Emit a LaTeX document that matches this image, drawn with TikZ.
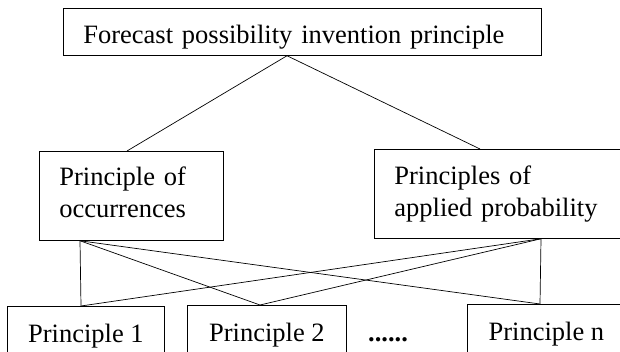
\documentclass[tikz,border=0pt]{standalone}
\usepackage{fontspec}
\setmainfont{Liberation Serif}
\usetikzlibrary{positioning}

\begin{document}
\begin{tikzpicture}[x=1pt,y=-1pt,
  box/.style={draw, rectangle, anchor=north west, inner xsep=20pt, inner ysep=0pt, align=left, line width=0.75pt, font=\fontsize{26.5}{32}\selectfont},
  leaf/.style={draw, rectangle, anchor=north west, inner sep=0pt, minimum height=60pt, line width=0.75pt, font=\fontsize{26.5}{32}\selectfont},
  edge/.style={line width=0.7pt}]
\useasboundingbox (0,0) rectangle (620,352);
\clip (0,0) rectangle (620,352);

\node(top)[box, text width=438pt, minimum height=47pt, text height=28.8pt] at (63,8) {Forecast possibility invention principle};

\node(occ)[box, text width=144pt, minimum height=89pt, text height=11pt] at (39,151) {Principle of\\occurrences};
\node(prob)[box, text width=211pt, minimum height=89pt, text height=18.8pt] at (374,149) {Principles of\\applied probability};

\node(p1)[leaf, minimum width=157pt] at (7,306) {Principle 1};
\node(p2)[leaf, minimum width=159pt] at (187,305) {Principle 2};
\node(pn)[leaf, minimum width=158pt] at (467,304) {Principle n};
\node(dots)[anchor=base west, inner sep=0pt, font=\fontsize{26.5}{32}\selectfont\bfseries] at (368,341) {......};

\coordinate (apex) at ([xshift=224pt]top.south west);
\coordinate (occ-in) at ([xshift=88pt]occ.north west);
\coordinate (prob-in) at ([xshift=106pt]prob.north west);
\coordinate (occ-out) at ([xshift=41pt]occ.south west);
\coordinate (prob-out) at ([xshift=167pt]prob.south west);
\coordinate (p1-in) at ([xshift=74pt]p1.north west);
\coordinate (p2-in) at ([xshift=73pt]p2.north west);
\coordinate (pn-in) at ([xshift=73pt]pn.north west);

\draw [edge] (apex) to (occ-in);
\draw [edge] (apex) to (prob-in);
\draw [edge] (occ-out) to (p1-in);
\draw [edge] (occ-out) to (p2-in);
\draw [edge] (occ-out) to (pn-in);
\draw [edge] (prob-out) to (p1-in);
\draw [edge] (prob-out) to (p2-in);
\draw [edge] (prob-out) to (pn-in);
\end{tikzpicture}
\end{document}
